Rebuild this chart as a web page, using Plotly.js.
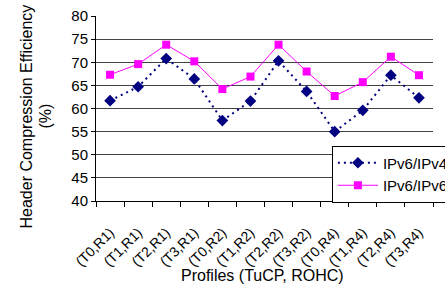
<!DOCTYPE html>
<html><head><meta charset="utf-8">
<script src="https://cdn.plot.ly/plotly-3.0.1.min.js"></script>
<style>html,body{margin:0;padding:0;overflow:hidden;background:#fff;width:445px;height:286px}</style>
</head><body><div id="chart"></div>
<script>
const categories = ["(T0,R1)","(T1,R1)","(T2,R1)","(T3,R1)","(T0,R2)","(T1,R2)","(T2,R2)","(T3,R2)","(T0,R4)","(T1,R4)","(T2,R4)","(T3,R4)"];
const ipv6ipv4 = [61.7,64.7,70.8,66.4,57.4,61.6,70.3,63.7,55.0,59.6,67.2,62.3];
const ipv6ipv6 = [67.3,69.6,73.8,70.2,64.2,66.9,73.8,68.0,62.7,65.7,71.2,67.2];
const seriesNames = ["IPv6/IPv4","IPv6/IPv6"];
const xTitle = "Profiles (TuCP, ROHC)";
const yTitleLines = ["Header Compression Efficiency", "(%)"];
const font = "Liberation Sans, Arial, sans-serif";
const traces = [
  {x: categories, y: ipv6ipv4, name: seriesNames[0], type: "scatter", mode: "lines+markers",
   line: {color: "#000080", width: 2, dash: "2px,4px"}, marker: {symbol: "diamond", size: 9, color: "#000080"}},
  {x: categories, y: ipv6ipv6, name: seriesNames[1], type: "scatter", mode: "lines+markers",
   line: {color: "#FF00FF", width: 1}, marker: {symbol: "square", size: 8, color: "#FF00FF"}}
];
const layout = {
  width: 460, height: 286, margin: {l: 96, r: 6, t: 16, b: 85},
  paper_bgcolor: "#fff", plot_bgcolor: "#fff", font: {family: font, color: "#000", size: 13},
  showlegend: true,
  legend: {x: 0.70, y: 0.3, xanchor: "left", yanchor: "top", bgcolor: "#fff", bordercolor: "#000", borderwidth: 1,
           font: {family: font, size: 15}, itemwidth: 40, tracegroupgap: 0},
  xaxis: {type: "category", range: [-0.5, 11.5], tickson: "boundaries", ticks: "outside", ticklen: 5, tickcolor: "#000",
          showline: true, linecolor: "#000", linewidth: 1, showgrid: false, tickangle: -45,
          tickfont: {family: font, size: 14}, ticklabelstandoff: 17},
  yaxis: {range: [40, 80], dtick: 5, ticks: "outside", ticklen: 4, tickcolor: "#000", showline: true, linecolor: "#000",
          linewidth: 1, showgrid: true, gridcolor: "#444", gridwidth: 1, tickfont: {family: font, size: 15}, zeroline: false},
  annotations: [
    {text: xTitle, xref: "paper", yref: "paper", x: 0.495, y: 0, yshift: -74, xanchor: "center", yanchor: "middle",
     showarrow: false, font: {family: font, size: 16}},
    {text: yTitleLines[0], xref: "paper", yref: "paper", x: 0, xshift: -70, y: 0.5, yshift: -8, xanchor: "center", yanchor: "middle",
     textangle: -90, showarrow: false, font: {family: font, size: 16}},
    {text: yTitleLines[1], xref: "paper", yref: "paper", x: 0, xshift: -51, y: 0.5, yshift: -8, xanchor: "center", yanchor: "middle",
     textangle: -90, showarrow: false, font: {family: font, size: 16}}
  ]
};
Plotly.newPlot("chart", traces, layout, {displayModeBar: false, staticPlot: true});
</script></body></html>
